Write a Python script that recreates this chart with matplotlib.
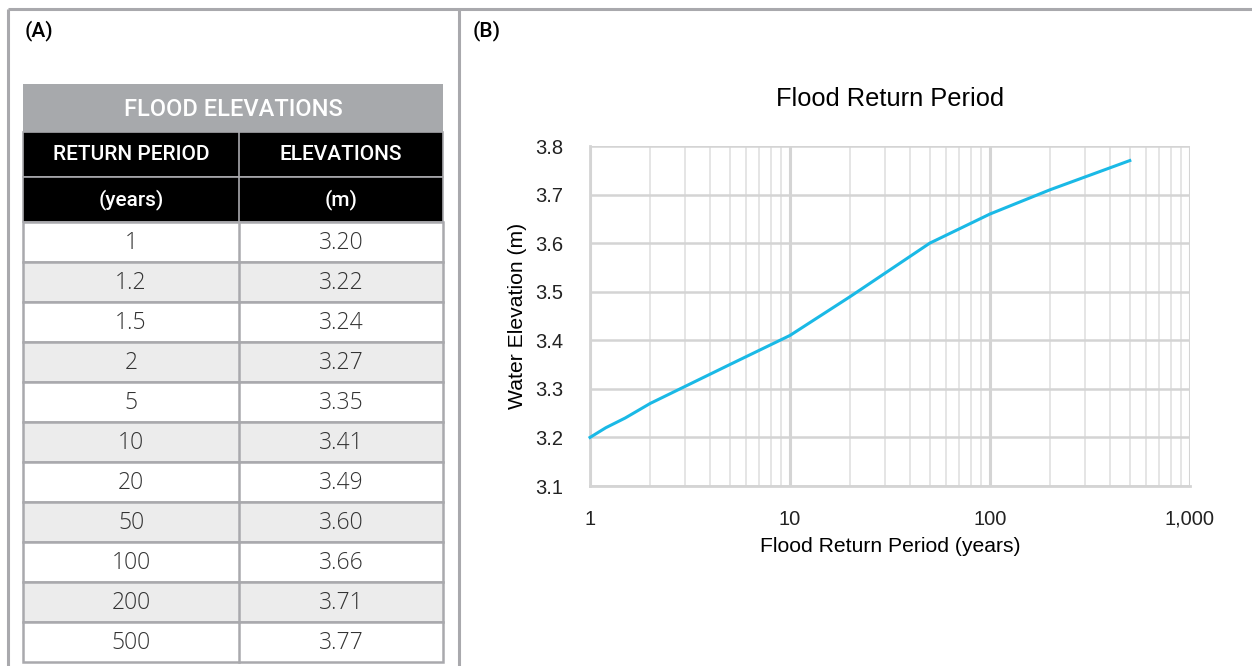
import matplotlib
matplotlib.use("Agg")
import matplotlib.pyplot as plt
from matplotlib.patches import Rectangle
from matplotlib.ticker import FixedLocator, LogLocator, NullFormatter

# flood return periods and the water elevation for each
periods = [1, 1.2, 1.5, 2, 5, 10, 20, 50, 100, 200, 500]
elevations = [3.20, 3.22, 3.24, 3.27, 3.35, 3.41, 3.49, 3.60, 3.66, 3.71, 3.77]
period_labels = ["1", "1.2", "1.5", "2", "5", "10", "20", "50", "100", "200", "500"]

x_ticks = [1, 10, 100, 1000]
x_tick_labels = ["1", "10", "100", "1,000"]
y_ticks = [3.1, 3.2, 3.3, 3.4, 3.5, 3.6, 3.7, 3.8]

W, H = 1252, 666
border = "#a9a9ad"
line_blue = "#1ab9e6"

fig = plt.figure(figsize=(W / 100, H / 100), dpi=100)

# background canvas in pixel units for the panel frame and the table
bg = fig.add_axes([0, 0, 1, 1])
bg.set_xlim(0, W)
bg.set_ylim(H, 0)
bg.axis("off")

# panel frame
bg.plot([8, W], [9, 9], color=border, lw=2.2, solid_capstyle="butt")
bg.plot([8, 8], [9, H], color=border, lw=2.2, solid_capstyle="butt")
bg.plot([459, 459], [9, H], color=border, lw=2.2, solid_capstyle="butt")

head_font = ["Roboto", "DejaVu Sans"]
body_font = ["Open Sans", "DejaVu Sans"]

bg.text(25, 31, "(A)", fontsize=15, family=head_font, weight="medium",
        ha="left", va="center", color="black")
bg.text(473, 31, "(B)", fontsize=15, family=head_font, weight="medium",
        ha="left", va="center", color="black")

# ---- table (A) ----
tx0, tx1, tmid = 23, 443, 239
title_top, title_bot = 84, 132
hdr_rows = [(132, 177), (177, 222)]
row_h = 40
data_top = 222

bg.add_patch(Rectangle((tx0, title_top), tx1 - tx0, title_bot - title_top,
                       facecolor="#a7a9ac", edgecolor="none"))
bg.text((tx0 + tx1) / 2, (title_top + title_bot) / 2 + 1, "FLOOD ELEVATIONS",
        fontsize=17, family=head_font, weight="medium", color="white",
        ha="center", va="center")

hdr_text = [("RETURN PERIOD", "ELEVATIONS"), ("(years)", "(m)")]
for (top, bot), (left_txt, right_txt) in zip(hdr_rows, hdr_text):
    bg.add_patch(Rectangle((tx0, top), tx1 - tx0, bot - top, facecolor="black",
                           edgecolor=border, lw=1.2))
    bg.plot([tmid, tmid], [top, bot], color=border, lw=1.2)
    cy = (top + bot) / 2
    bg.text((tx0 + tmid) / 2, cy, left_txt, fontsize=15, family=head_font,
            weight="medium", color="white", ha="center", va="center")
    bg.text((tmid + tx1) / 2, cy, right_txt, fontsize=15, family=head_font,
            weight="medium", color="white", ha="center", va="center")

for i, (lab, ev) in enumerate(zip(period_labels, elevations)):
    top = data_top + i * row_h
    face = "#ececec" if i % 2 == 1 else "white"
    bg.add_patch(Rectangle((tx0, top), tx1 - tx0, row_h, facecolor=face,
                           edgecolor=border, lw=1.8))
    bg.plot([tmid, tmid], [top, top + row_h], color=border, lw=1.8)
    cy = top + row_h / 2 + 1
    bg.text((tx0 + tmid) / 2, cy, lab, fontsize=16.5, family=body_font,
            weight="light", color="#333333", ha="center", va="center")
    bg.text((tmid + tx1) / 2, cy, f"{ev:.2f}", fontsize=16.5, family=body_font,
            weight="light", color="#333333", ha="center", va="center")

# ---- chart (B) ----
ax_l, ax_r, ax_t, ax_b = 590, 1190, 146, 486
ax = fig.add_axes([ax_l / W, (H - ax_b) / H, (ax_r - ax_l) / W, (ax_b - ax_t) / H])
ax.set_xscale("log")
ax.set_xlim(1, 1000)
ax.set_ylim(3.1, 3.8)

grid_c = "#d4d4d4"
ax.xaxis.set_major_locator(FixedLocator(x_ticks))
ax.xaxis.set_minor_locator(LogLocator(base=10, subs=range(2, 10)))
ax.xaxis.set_minor_formatter(NullFormatter())
ax.set_xticks(x_ticks)
ax.set_xticklabels(x_tick_labels)
ax.set_yticks(y_ticks)
ax.set_yticklabels([f"{v:.1f}" for v in y_ticks])

ax.grid(which="major", axis="x", color=grid_c, lw=2.2)
ax.grid(which="minor", axis="x", color="#dedede", lw=1.1)
ax.grid(which="major", axis="y", color=grid_c, lw=1.8)
ax.set_axisbelow(True)
for side in ["top", "right"]:
    ax.spines[side].set_visible(False)
for side in ["left", "bottom"]:
    ax.spines[side].set_color(grid_c)
    ax.spines[side].set_linewidth(2)

ax.tick_params(which="both", length=0)
ax.tick_params(axis="x", pad=17)
ax.tick_params(axis="y", pad=19)

chart_font = ["Liberation Sans", "DejaVu Sans"]
for t in ax.get_xticklabels() + ax.get_yticklabels():
    t.set_family(chart_font)
    t.set_fontsize(14.5)
    t.set_color("#222222")

ax.plot(periods, elevations, color=line_blue, lw=2.2, clip_on=False, zorder=3)

ax.set_title("Flood Return Period", fontsize=18.3, family=chart_font, pad=29)
ax.set_xlabel("Flood Return Period (years)", fontsize=15.2, family=chart_font, labelpad=6)
ax.set_ylabel("Water Elevation (m)", fontsize=15.2, family=chart_font, labelpad=6)

fig.savefig("out.png", dpi=100)
